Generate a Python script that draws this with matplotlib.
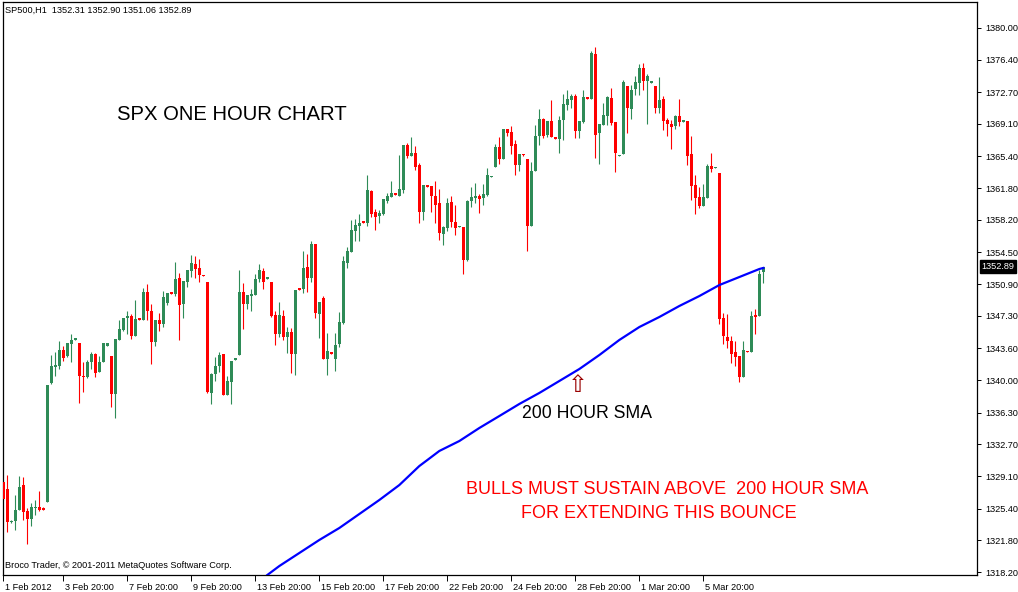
import matplotlib.pyplot as plt
import numpy as np
from matplotlib.transforms import blended_transform_factory, ScaledTranslation

# SP500 H1, 1 Feb - 6 Mar 2012
opens = [
    1328.4, 1327.6, 1323.9, 1324.0, 1325.2, 1328.1, 1325.1, 1324.2, 1325.5, 1325.6,
    1325.5, 1326.1, 1339.7, 1341.5, 1341.6, 1343.4, 1342.7, 1344.1, 1344.6, 1344.2,
    1340.5, 1340.4, 1342.0, 1343.0, 1340.9, 1342.0, 1343.9, 1342.7, 1338.4, 1344.6,
    1345.7, 1347.0, 1347.3, 1345.0, 1347.0, 1346.8, 1350.0, 1347.8, 1344.3, 1346.8,
    1346.4, 1348.8, 1350.0, 1349.8, 1351.6, 1348.7, 1351.2, 1352.4, 1353.2, 1352.7,
    1351.9, 1351.1, 1338.5, 1340.7, 1341.6, 1343.0, 1338.3, 1339.8, 1342.3, 1342.9,
    1350.0, 1348.6, 1349.6, 1349.7, 1351.5, 1352.4, 1351.5, 1351.1, 1347.4, 1345.2,
    1347.3, 1344.9, 1345.5, 1343.0, 1350.5, 1350.4, 1352.9, 1351.6, 1355.5, 1347.5,
    1349.3, 1342.4, 1343.2, 1342.4, 1344.1, 1346.5, 1353.3, 1354.5, 1356.9, 1357.5,
    1358.0, 1357.9, 1361.5, 1359.1, 1358.6, 1358.9, 1360.4, 1360.8, 1361.2, 1360.9,
    1361.6, 1366.7, 1365.5, 1365.8, 1364.4, 1359.1, 1362.2, 1362.0, 1360.9, 1360.1,
    1356.6, 1357.3, 1360.2, 1358.0, 1357.4, 1357.4, 1353.6, 1360.3, 1360.7, 1360.9,
    1360.7, 1361.0, 1363.1, 1364.2, 1366.5, 1365.1, 1368.5, 1368.2, 1366.8, 1364.4,
    1365.7, 1365.1, 1357.5, 1363.8, 1367.7, 1369.7, 1367.8, 1369.4, 1367.6, 1367.4,
    1369.5, 1371.3, 1371.8, 1372.3, 1368.3, 1369.3, 1372.2, 1371.9, 1377.0, 1368.1,
    1369.0, 1370.0, 1372.0, 1369.3, 1365.5, 1365.7, 1373.4, 1370.8, 1373.1, 1373.8,
    1375.5, 1374.0, 1373.8, 1373.4, 1370.9, 1371.9, 1369.5, 1369.1, 1368.9, 1370.0,
    1369.3, 1369.4, 1365.7, 1362.2, 1360.8, 1359.8, 1360.7, 1364.3, 1364.1, 1363.5,
    1347.1, 1344.9, 1344.4, 1343.2, 1342.7, 1340.4, 1343.3, 1343.2, 1347.4, 1347.3,
    1352.31,
]
highs = [
    1328.6, 1329.2, 1324.1, 1326.9, 1329.1, 1329.0, 1325.5, 1326.0, 1326.4, 1327.4,
    1325.6, 1339.4, 1342.9, 1343.2, 1344.4, 1343.9, 1344.2, 1345.2, 1344.8, 1344.2,
    1342.1, 1342.3, 1343.2, 1343.1, 1342.7, 1344.2, 1344.2, 1342.7, 1344.7, 1346.8,
    1347.1, 1347.9, 1347.5, 1349.1, 1347.0, 1350.5, 1350.9, 1348.6, 1346.8, 1347.6,
    1350.1, 1349.9, 1350.0, 1353.4, 1352.2, 1351.3, 1352.5, 1354.2, 1354.1, 1353.8,
    1351.9, 1351.1, 1340.8, 1342.6, 1343.2, 1343.0, 1340.5, 1342.2, 1342.5, 1352.5,
    1351.0, 1349.7, 1350.3, 1352.1, 1353.2, 1352.7, 1351.7, 1351.1, 1347.8, 1348.9,
    1348.0, 1346.0, 1345.9, 1350.2, 1350.5, 1354.7, 1354.3, 1355.8, 1355.5, 1348.9,
    1349.6, 1345.4, 1343.2, 1345.4, 1347.7, 1354.1, 1355.1, 1358.2, 1358.3, 1358.9,
    1358.0, 1363.3, 1361.6, 1359.4, 1359.3, 1360.6, 1361.3, 1362.6, 1361.2, 1365.6,
    1366.7, 1366.9, 1367.6, 1366.6, 1364.7, 1362.2, 1362.2, 1362.0, 1362.6, 1361.7,
    1357.5, 1360.7, 1360.9, 1359.9, 1357.5, 1357.4, 1360.5, 1361.9, 1362.4, 1361.1,
    1362.3, 1364.1, 1363.2, 1366.8, 1367.6, 1368.5, 1368.5, 1368.9, 1367.3, 1365.7,
    1365.7, 1365.1, 1364.8, 1369.0, 1370.8, 1369.8, 1369.4, 1371.8, 1367.6, 1370.0,
    1372.5, 1373.0, 1372.5, 1372.5, 1369.4, 1373.0, 1372.2, 1377.4, 1377.8, 1369.1,
    1371.5, 1372.3, 1373.2, 1369.3, 1365.6, 1374.1, 1373.4, 1373.5, 1374.6, 1375.9,
    1376.0, 1374.8, 1374.0, 1373.4, 1374.4, 1372.3, 1369.8, 1369.5, 1370.1, 1371.9,
    1369.5, 1369.4, 1367.7, 1363.3, 1361.9, 1362.3, 1364.5, 1365.8, 1364.2, 1363.5,
    1347.6, 1347.5, 1345.0, 1344.4, 1342.7, 1344.4, 1343.3, 1347.9, 1348.1, 1352.5,
    1352.90,
]
lows = [
    1326.4, 1322.8, 1323.8, 1323.0, 1325.2, 1324.1, 1321.4, 1323.4, 1324.7, 1325.1,
    1325.3, 1326.1, 1339.6, 1340.5, 1341.3, 1342.2, 1342.6, 1342.1, 1344.6, 1337.4,
    1338.6, 1340.2, 1341.3, 1340.3, 1340.9, 1342.0, 1343.9, 1337.0, 1335.7, 1344.5,
    1345.6, 1345.2, 1344.7, 1345.0, 1346.8, 1346.8, 1346.8, 1341.8, 1343.9, 1345.6,
    1346.0, 1348.5, 1349.8, 1349.5, 1344.5, 1347.0, 1350.6, 1351.7, 1351.6, 1351.1,
    1351.8, 1338.5, 1337.3, 1339.9, 1340.9, 1338.3, 1338.3, 1337.3, 1342.3, 1342.9,
    1345.8, 1348.1, 1347.8, 1349.7, 1351.1, 1350.4, 1351.5, 1347.2, 1344.0, 1344.9,
    1344.6, 1343.1, 1340.8, 1340.6, 1350.2, 1349.9, 1350.0, 1351.1, 1347.1, 1344.8,
    1342.4, 1340.6, 1343.0, 1341.0, 1343.8, 1346.4, 1352.7, 1354.5, 1355.8, 1355.8,
    1357.9, 1357.5, 1358.5, 1357.0, 1357.9, 1358.8, 1360.1, 1360.8, 1361.0, 1360.9,
    1361.3, 1365.2, 1365.5, 1363.9, 1357.9, 1358.2, 1361.9, 1359.1, 1357.9, 1355.9,
    1355.3, 1356.9, 1357.4, 1356.5, 1357.4, 1352.1, 1353.5, 1359.7, 1360.1, 1359.0,
    1359.9, 1360.9, 1363.1, 1364.2, 1364.5, 1365.1, 1367.7, 1365.7, 1363.3, 1363.8,
    1365.5, 1354.7, 1357.5, 1363.8, 1366.7, 1367.5, 1367.6, 1367.6, 1367.4, 1365.8,
    1367.3, 1370.7, 1370.9, 1367.5, 1367.5, 1369.2, 1371.9, 1371.9, 1365.2, 1364.5,
    1369.0, 1369.0, 1369.0, 1363.6, 1365.5, 1365.7, 1368.1, 1369.7, 1372.4, 1372.4,
    1372.9, 1369.1, 1373.8, 1370.3, 1370.3, 1368.4, 1367.7, 1366.3, 1368.5, 1368.9,
    1369.3, 1364.4, 1360.5, 1358.9, 1359.6, 1359.8, 1360.7, 1363.6, 1364.1, 1346.4,
    1344.1, 1343.6, 1341.9, 1341.6, 1339.8, 1340.4, 1343.2, 1343.2, 1345.2, 1347.3,
    1351.06,
]
closes = [
    1326.5, 1323.9, 1324.0, 1325.2, 1327.9, 1325.0, 1324.2, 1325.6, 1325.6, 1325.3,
    1325.3, 1339.4, 1341.6, 1341.7, 1343.4, 1342.5, 1344.2, 1344.5, 1344.8, 1340.5,
    1340.3, 1342.1, 1343.0, 1340.8, 1342.1, 1344.2, 1344.2, 1338.4, 1344.7, 1345.8,
    1347.0, 1347.3, 1345.0, 1346.9, 1346.8, 1350.0, 1347.8, 1344.3, 1346.8, 1346.4,
    1349.4, 1349.9, 1349.8, 1351.5, 1348.5, 1351.3, 1352.5, 1353.3, 1352.6, 1351.9,
    1351.8, 1338.7, 1340.7, 1341.6, 1342.9, 1338.3, 1339.9, 1342.2, 1342.5, 1350.0,
    1348.7, 1349.7, 1349.8, 1351.5, 1352.5, 1351.1, 1351.7, 1347.3, 1345.2, 1347.4,
    1344.9, 1345.5, 1343.0, 1350.2, 1350.2, 1352.7, 1351.6, 1355.5, 1347.6, 1348.9,
    1342.4, 1343.3, 1343.0, 1344.0, 1346.6, 1353.5, 1354.7, 1357.0, 1357.6, 1357.9,
    1357.9, 1361.6, 1358.9, 1358.5, 1359.0, 1360.6, 1360.9, 1361.3, 1361.0, 1361.7,
    1366.7, 1365.5, 1365.8, 1364.2, 1359.1, 1362.2, 1361.9, 1360.9, 1359.9, 1356.7,
    1357.4, 1360.1, 1358.0, 1357.3, 1357.5, 1353.6, 1360.3, 1360.8, 1360.9, 1360.6,
    1361.1, 1363.3, 1363.2, 1366.5, 1365.1, 1368.5, 1368.1, 1366.6, 1364.4, 1365.7,
    1365.6, 1357.5, 1363.8, 1367.7, 1369.7, 1367.7, 1369.4, 1367.6, 1367.4, 1369.5,
    1371.4, 1371.9, 1372.3, 1368.3, 1369.4, 1372.2, 1371.9, 1377.2, 1367.8, 1369.1,
    1370.1, 1372.2, 1369.2, 1365.8, 1365.6, 1373.9, 1370.9, 1373.0, 1373.9, 1375.5,
    1374.0, 1374.5, 1374.0, 1370.9, 1371.8, 1369.4, 1369.1, 1368.8, 1370.0, 1369.3,
    1369.5, 1365.5, 1362.0, 1360.7, 1359.8, 1360.8, 1364.3, 1364.0, 1364.2, 1346.9,
    1345.0, 1344.4, 1343.0, 1342.6, 1340.4, 1343.4, 1343.2, 1347.3, 1347.2, 1352.0,
    1352.89,
]

# 200 hour SMA, read at some bars
sma_bars = [66, 69, 74, 79, 84, 89, 94, 99, 104, 106, 109, 114, 119, 124,
            129, 134, 139, 144, 149, 154, 159, 164, 169, 174, 179, 184, 189, 190]
sma_vals = [1317.86, 1318.88, 1320.36, 1321.84, 1323.20, 1324.79, 1326.38,
            1328.08, 1330.24, 1330.92, 1331.95, 1333.08, 1334.56, 1335.92,
            1337.29, 1338.54, 1339.90, 1341.26, 1342.85, 1344.56, 1346.03,
            1347.17, 1348.42, 1349.55, 1350.80, 1351.71, 1352.62, 1352.74]

price_ticks = [1318.20, 1321.80, 1325.40, 1329.10, 1332.70, 1336.30, 1340.00,
               1343.60, 1347.30, 1350.90, 1354.50, 1358.20, 1361.80, 1365.40,
               1369.10, 1372.70, 1376.40, 1380.00]
date_ticks = [0, 15, 31, 47, 63, 79, 95, 111, 127, 143, 159, 175]
date_labels = ['1 Feb 2012', '3 Feb 20:00', '7 Feb 20:00', '9 Feb 20:00',
               '13 Feb 20:00', '15 Feb 20:00', '17 Feb 20:00', '22 Feb 20:00',
               '24 Feb 20:00', '28 Feb 20:00', '1 Mar 20:00', '5 Mar 20:00']
last_price = 1352.89

plt.rcParams['font.family'] = ['Liberation Sans', 'DejaVu Sans']

W, H = 1018, 592
fig = plt.figure(figsize=(W / 100, H / 100), dpi=100)
ax = fig.add_axes([2.5 / W, 1 - 575 / H, (977 - 2.5) / W, (575 - 2) / H])

o = np.array(opens)
h = np.array(highs)
l = np.array(lows)
c = np.array(closes)
x = np.arange(len(o))
up = c >= o
col = np.where(up, '#2E8B57', '#FF0000')

ax.vlines(x, l, h, colors=col, linewidth=0.8, zorder=2)
bottom = np.minimum(o, c)
height = np.maximum(np.abs(c - o), 0.12)
ax.bar(x, height, bottom=bottom, width=0.75, color=col, linewidth=0, zorder=3)

ax.plot(sma_bars, sma_vals, color='#0000FF', linewidth=1.6, zorder=4)

ax.set_xlim(-0.2, 243.4)
ax.set_ylim(1317.86, 1382.95)

# axes / ticks in MetaTrader style
for s in ax.spines.values():
    s.set_linewidth(0.9)
    s.set_color('black')
ax.yaxis.tick_right()
ax.set_yticks(price_ticks)
ax.set_yticklabels(['%.2f' % v for v in price_ticks])
ax.tick_params(axis='y', direction='out', length=3, width=0.7, pad=3,
               labelsize=6.6, colors='black')
ax.set_xticks(date_ticks)
ax.set_xticklabels(date_labels, ha='left')
ax.tick_params(axis='x', direction='out', length=4, width=0.7, pad=1.5,
               labelsize=6.6, colors='black')
off = ScaledTranslation(2 / 100, 0, fig.dpi_scale_trans)
for lab in ax.get_xticklabels():
    lab.set_transform(lab.get_transform() + off)

# current price box
tr = blended_transform_factory(ax.transAxes, ax.transData)
ax.text(1.0045, last_price, '%.2f' % last_price, transform=tr, color='white',
        fontsize=6.6, va='center', ha='left',
        bbox=dict(facecolor='black', edgecolor='black', pad=1.2))

# texts
fig.text(5 / W, 1 - 10 / H, 'SP500,H1  1352.31 1352.90 1351.06 1352.89',
         fontsize=6.6, va='center', ha='left')
fig.text(117 / W, 1 - 114 / H, 'SPX ONE HOUR CHART', fontsize=14.6,
         va='center', ha='left')
fig.text(522 / W, 1 - 413 / H, '200 HOUR SMA', fontsize=12.7,
         va='center', ha='left')
fig.text(578 / W, 1 - 385 / H, '\u21e7', fontsize=17, color='#990000',
         va='center', ha='center', family='DejaVu Sans')
fig.text(667 / W, 1 - 489 / H, 'BULLS MUST SUSTAIN ABOVE  200 HOUR SMA',
         fontsize=13, color='#FF0000', va='center', ha='center')
fig.text(659 / W, 1 - 513 / H, 'FOR EXTENDING THIS BOUNCE',
         fontsize=13, color='#FF0000', va='center', ha='center')
fig.text(5 / W, 1 - 566 / H,
         'Broco Trader, \u00a9 2001-2011 MetaQuotes Software Corp.',
         fontsize=6.6, va='center', ha='left')

fig.savefig('out.png', dpi=100)
